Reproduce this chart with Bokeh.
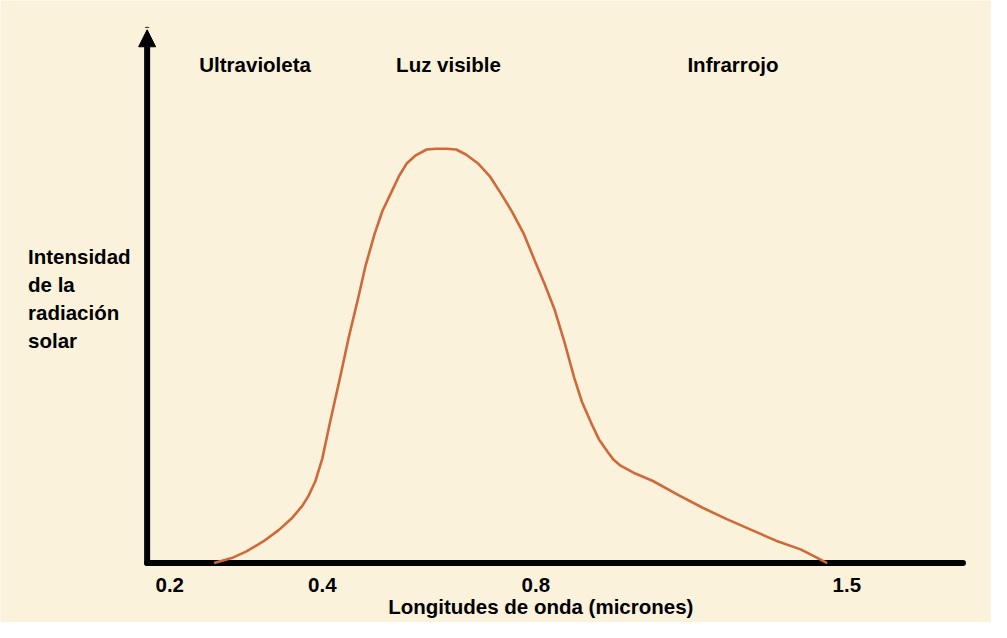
import numpy as np
from bokeh.plotting import figure
from bokeh.models import Range1d, Label, Arrow, NormalHead
from bokeh.core.properties import value
from bokeh.embed import file_html
from bokeh.resources import INLINE

# ---- data ----
tick_labels = ["0.2", "0.4", "0.8", "1.5"]
tick_wavelengths = [0.2, 0.4, 0.8, 1.5]
# wavelength (microns) and relative intensity (% of peak)
curve_wavelength = [0.2581, 0.2813, 0.3006, 0.3226, 0.3432, 0.3600, 0.3742, 0.3819,
                    0.3910, 0.4000, 0.4147, 0.4332, 0.4498, 0.4664, 0.4811, 0.4977,
                    0.5124, 0.5290, 0.5438, 0.5585, 0.5751, 0.5954, 0.6138, 0.6323,
                    0.6507, 0.6691, 0.6912, 0.7134, 0.7336, 0.7558, 0.7779, 0.7982,
                    0.8199, 0.8421, 0.8642, 0.8864, 0.9041, 0.9241, 0.9418, 0.9618,
                    0.9751, 0.9906, 1.0238, 1.0636, 1.1190, 1.1744, 1.2297, 1.2851,
                    1.3405, 1.3959, 1.4269, 1.4557]
curve_intensity = [0.0, 1.2, 2.8, 5.2, 8.0, 10.8, 13.9, 16.2,
                   19.8, 25.2, 34.1, 44.7, 54.6, 63.5, 71.8, 79.3,
                   84.9, 89.4, 93.4, 96.5, 98.4, 99.8, 100.0, 100.0,
                   99.8, 98.6, 96.5, 93.4, 89.4, 84.7, 79.3, 72.9,
                   67.3, 61.2, 53.4, 44.7, 38.8, 33.9, 29.9, 26.8,
                   24.9, 23.5, 21.6, 19.8, 16.5, 13.4, 10.6, 8.0,
                   5.4, 3.3, 1.6, 0.0]
band_labels = ["Ultravioleta", "Luz visible", "Infrarrojo"]
y_title_lines = ["Intensidad", "de la", "radiación", "solar"]
x_title = "Longitudes de onda (micrones)"

# ---- layout (the original's wavelength axis is not linear) ----
TICK_POS = [23, 178, 395, 711]          # axis position of each tick label
x_pos = np.interp(curve_wavelength, tick_wavelengths, TICK_POS)
X_END = 829                              # end of the horizontal axis
Y_TOP = 128.7                            # tip of the vertical arrow

BG = "#FBF2DC"
FONT = "Liberation Sans"
FS = "20.5px"

p = figure(width=991, height=622, output_backend="svg", toolbar_location=None,
           x_range=Range1d(-149, 858), y_range=Range1d(-14.35, 135.76),
           x_axis_location=None, y_axis_location=None,
           min_border=0)
p.background_fill_color = BG
p.border_fill_color = BG
p.outline_line_color = None
p.grid.visible = False

# axes
p.segment(x0=[0], y0=[0], x1=[X_END], y1=[0], line_color="black",
          line_width=6, line_cap="round")
p.add_layout(Arrow(x_start=0, y_start=0, x_end=0, y_end=Y_TOP,
                   line_width=6, line_color="black", line_cap="round",
                   end=NormalHead(size=17, fill_color="black", line_color="black",
                                  line_width=1)))

# curve
p.line(x_pos, curve_intensity, line_color="#D0693A", line_width=2.6)

# tick labels
p.text(x=TICK_POS, y=[-5.3] * len(TICK_POS), text=tick_labels,
       text_font=value(FONT), text_font_style="bold", text_font_size=FS,
       text_color="black", text_align="center", text_baseline="alphabetic")

label_kw = dict(text_font=FONT, text_font_style="bold", text_font_size=FS,
                text_color="black", text_baseline="alphabetic")

for txt, x in zip(band_labels, [53, 253, 549]):
    p.add_layout(Label(x=x, y=120.2, text=txt, text_align="left", **label_kw))

for i, txt in enumerate(y_title_lines):
    p.add_layout(Label(x=-121, y=(314 - 28.6 * i) / 4.25, text=txt,
                       text_align="left", **label_kw))

p.add_layout(Label(x=400, y=-10.5, text=x_title, text_align="center", **label_kw))

open("out.html", "w").write(file_html(p, INLINE))
